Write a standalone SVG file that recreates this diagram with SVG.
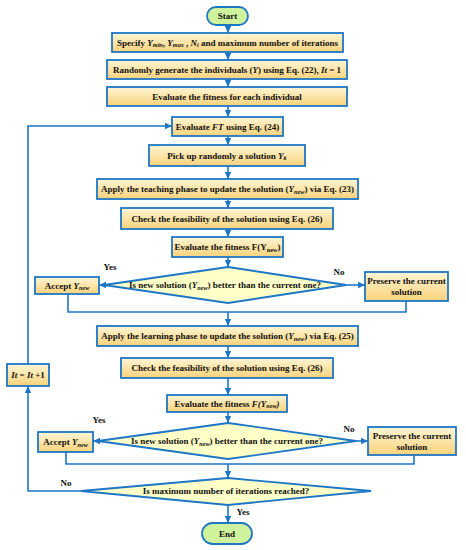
<svg xmlns="http://www.w3.org/2000/svg" width="466" height="550" viewBox="0 0 466 550">
<defs>
<linearGradient id="gb" x1="0" y1="0" x2="0" y2="1">
<stop offset="0" stop-color="#FFF6D6"/>
<stop offset="1" stop-color="#F8D27A"/>
</linearGradient>
<marker id="ar" markerWidth="8" markerHeight="8" refX="7" refY="4" orient="auto" markerUnits="userSpaceOnUse">
<path d="M0,0.8 L7,4 L0,7.2 Z" fill="#1E76C6"/>
</marker>
<style>
.b{fill:url(#gb);stroke:#1E76C6;stroke-width:1.8}
.d{fill:#FFFFC8;stroke:#1E76C6;stroke-width:1.8}
.t{fill:#CFF29C;stroke:#1E76C6;stroke-width:1.8}
.c{fill:none;stroke:#1E76C6;stroke-width:1.6}
.a{marker-end:url(#ar)}
text{font-family:"Liberation Serif","Times New Roman",serif;font-weight:bold;font-size:9px;fill:#111;text-anchor:middle}
.s{font-size:6.2px}
.i{font-style:italic}
</style>
</defs>
<g id="connectors">
<line class="c a" x1="228" y1="25" x2="228" y2="33"/>
<line class="c a" x1="228" y1="52" x2="228" y2="60"/>
<line class="c a" x1="228" y1="79" x2="228" y2="87"/>
<line class="c a" x1="228" y1="106" x2="228" y2="117"/>
<line class="c a" x1="228" y1="136" x2="228" y2="145"/>
<line class="c a" x1="228" y1="166" x2="228" y2="179"/>
<line class="c a" x1="228" y1="199" x2="228" y2="208"/>
<line class="c a" x1="228" y1="229" x2="228" y2="237"/>
<line class="c a" x1="228" y1="257" x2="228" y2="267"/>
<line class="c a" x1="104" y1="285" x2="99" y2="285"/>
<line class="c a" x1="346" y1="285" x2="365" y2="285"/>
<polyline class="c" points="68,294 68,312 406,312 406,301"/>
<line class="c a" x1="228" y1="312" x2="228" y2="326"/>
<line class="c a" x1="228" y1="346" x2="228" y2="358"/>
<line class="c a" x1="228" y1="378" x2="228" y2="395"/>
<line class="c a" x1="228" y1="412" x2="228" y2="423"/>
<line class="c a" x1="98" y1="441" x2="93" y2="441"/>
<line class="c a" x1="356" y1="441" x2="368" y2="441"/>
<polyline class="c" points="66,452 66,464 414,464 414,455"/>
<line class="c a" x1="228" y1="464" x2="228" y2="478"/>
<line class="c a" x1="228" y1="505" x2="228" y2="523"/>
<polyline class="c a" points="81,491 28,491 28,386"/>
<polyline class="c a" points="28,364 28,126 172,126"/>
</g>
<g id="start"><rect class="t" x="207" y="7" width="41" height="18" rx="9"/><text x="227.5" y="19">Start</text></g>
<g id="specify"><rect class="b" x="112" y="33" width="231" height="19"/><text x="227.5" y="45.5">Specify <tspan class="i">Y</tspan><tspan class="i s" dy="1.5">min</tspan><tspan dy="-1.5">, </tspan><tspan class="i">Y</tspan><tspan class="i s" dy="1.5">max</tspan><tspan dy="-1.5"> , </tspan><tspan class="i">N</tspan><tspan class="i s" dy="1.5">i</tspan><tspan dy="-1.5"> and maximum number of iterations</tspan></text></g>
<g id="generate"><rect class="b" x="107" y="60" width="240" height="19"/><text x="227" y="72.5">Randomly generate the individuals (<tspan class="i">Y</tspan>) using Eq. (22), <tspan class="i">It</tspan> = 1</text></g>
<g id="evalfit"><rect class="b" x="107" y="87" width="240" height="19"/><text x="227" y="99.5">Evaluate the fitness for each individual</text></g>
<g id="evalft"><rect class="b" x="172" y="117" width="111" height="19"/><text x="227.5" y="129.5">Evaluate <tspan class="i">FT</tspan> using Eq. (24)</text></g>
<g id="pick"><rect class="b" x="149" y="145" width="156" height="21"/><text x="227" y="158.5">Pick up randomly a solution <tspan class="i">Y</tspan><tspan class="i s" dy="1.5">k</tspan></text></g>
<g id="teach"><rect class="b" x="97" y="179" width="261" height="20"/><text x="227.5" y="192">Apply the teaching phase to update the solution (<tspan class="i">Y</tspan><tspan class="i s" dy="1.5">new</tspan><tspan dy="-1.5">) via Eq. (23)</tspan></text></g>
<g id="check1"><rect class="b" x="121" y="208" width="212" height="21"/><text x="227" y="221.5">Check the feasibility of the solution using Eq. (26)</text></g>
<g id="evalnew1"><rect class="b" x="172" y="237" width="111" height="20"/><text x="227.5" y="250">Evaluate the fitness F(Y<tspan class="s" dy="1.5">new</tspan><tspan dy="-1.5">)</tspan></text></g>
<g id="dec1"><polygon class="d" points="228,267 346,285 228,303 104,285"/><text x="225" y="288">Is new solution (<tspan class="i">Y</tspan><tspan class="i s" dy="1.5">new</tspan><tspan dy="-1.5">) better than the current one?</tspan></text></g>
<g id="accept1"><rect class="b" x="35" y="277" width="64" height="17"/><text x="67" y="288.5">Accept <tspan class="i">Y</tspan><tspan class="i s" dy="1.5">new</tspan></text></g>
<g id="preserve1"><rect class="b" x="365" y="272" width="83" height="29"/><text x="406.5" y="283.5">Preserve the current</text><text x="406.5" y="294.5">solution</text></g>
<g id="learn"><rect class="b" x="97" y="326" width="261" height="20"/><text x="227.5" y="339">Apply the learning phase to update the solution (<tspan class="i">Y</tspan><tspan class="i s" dy="1.5">new</tspan><tspan dy="-1.5">) via Eq. (25)</tspan></text></g>
<g id="check2"><rect class="b" x="121" y="358" width="212" height="20"/><text x="227" y="371">Check the feasibility of the solution using Eq. (26)</text></g>
<g id="evalnew2"><rect class="b" x="167" y="395" width="120" height="17"/><text x="227" y="406.5">Evaluate the fitness <tspan class="i">F(Y</tspan><tspan class="i s" dy="1.5">new</tspan><tspan class="i" dy="-1.5">)</tspan></text></g>
<g id="dec2"><polygon class="d" points="228,423 356,441 228,459 98,441"/><text x="227" y="444">Is new solution (<tspan class="i">Y</tspan><tspan class="i s" dy="1.5">new</tspan><tspan dy="-1.5">) better than the current one?</tspan></text></g>
<g id="accept2"><rect class="b" x="38" y="432" width="55" height="20"/><text x="65.5" y="445">Accept <tspan class="i">Y</tspan><tspan class="i s" dy="1.5">new</tspan></text></g>
<g id="preserve2"><rect class="b" x="368" y="427" width="88" height="28"/><text x="412" y="438.5">Preserve the current</text><text x="412" y="449.5">solution</text></g>
<g id="iter"><rect class="b" x="7" y="364" width="42" height="22"/><text x="28" y="378"><tspan class="i">It</tspan> = <tspan class="i">It</tspan> +1</text></g>
<g id="dec3"><polygon class="d" points="228,478 371,491 228,505 81,491"/><text x="226" y="494">Is maximum number of iterations reached?</text></g>
<g id="end"><rect class="t" x="202" y="523" width="50" height="21" rx="10.5"/><text x="227" y="536.5">End</text></g>
<g id="labels">
<text x="110" y="270">Yes</text>
<text x="339" y="275">No</text>
<text x="99" y="423">Yes</text>
<text x="349" y="432">No</text>
<text x="66" y="486">No</text>
<text x="243" y="515">Yes</text>
</g>
</svg>
